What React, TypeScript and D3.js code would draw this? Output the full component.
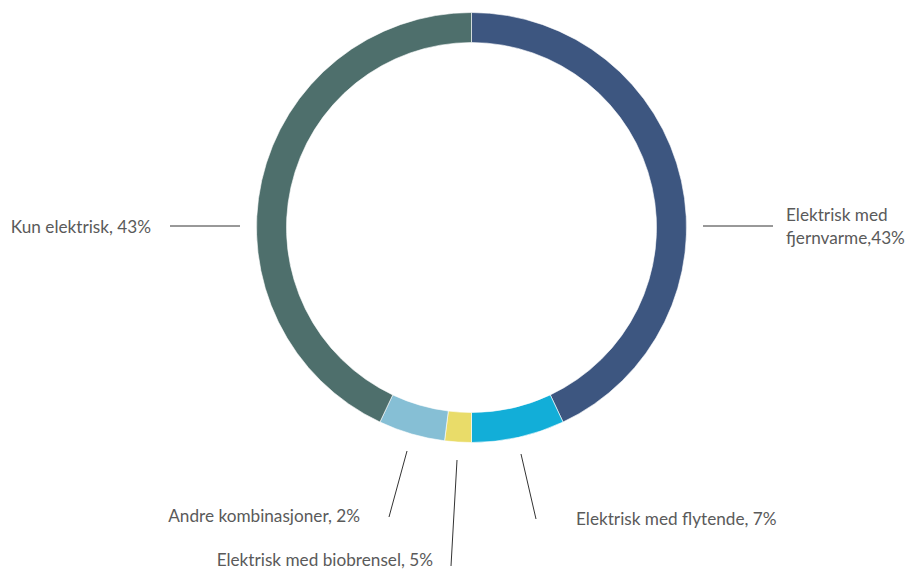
import React from "react";
import * as d3 from "d3";

const categories = [
  "Elektrisk med fjernvarme",
  "Elektrisk med flytende",
  "Elektrisk med biobrensel",
  "Andre kombinasjoner",
  "Kun elektrisk",
];
const values = [43, 7, 2, 5, 43];
const colors = ["#3d5680", "#12aed8", "#e9dc69", "#86bfd5", "#4e6f6c"];

type Label = { lines: string[]; x: number; y: number; anchor: string; line: [number, number, number, number] };
const labels: Label[] = [
  { lines: ["Elektrisk med", "fjernvarme,43%"], x: 786, y: 221, anchor: "start", line: [703, 226, 773, 226] },
  { lines: ["Elektrisk med flytende, 7%"], x: 576, y: 525, anchor: "start", line: [521, 454, 536, 519] },
  { lines: ["Elektrisk med biobrensel, 5%"], x: 433, y: 566, anchor: "end", line: [457, 460, 451, 566] },
  { lines: ["Andre kombinasjoner, 2%"], x: 360, y: 522, anchor: "end", line: [407, 451, 389, 517] },
  { lines: ["Kun elektrisk, 43%"], x: 151, y: 233, anchor: "end", line: [170, 226, 240, 226] },
];

export default function App() {
  const W = 911, H = 570;
  const cx = 471.5, cy = 227.5;
  const outerR = 215, innerR = 185;
  const data = categories.map((c, i) => ({ c, v: values[i], color: colors[i] }));
  const pie = d3.pie<any>().value((d) => d.v).sort(null);
  const arc = d3.arc<any>().innerRadius(innerR).outerRadius(outerR);
  const arcs = pie(data);
  return (
    <svg width={W} height={H} style={{ position: "absolute", left: 0, top: 0, background: "#fff" }}>
      <g transform={`translate(${cx},${cy})`}>
        {arcs.map((a, i) => (
          <path key={i} d={arc(a) || ""} fill={a.data.color} stroke="#ffffff" strokeWidth={0.6} />
        ))}
      </g>
      {labels.map((l, i) => (
        <g key={i}>
          <line x1={l.line[0]} y1={l.line[1]} x2={l.line[2]} y2={l.line[3]} stroke="#333" strokeWidth={1} />
          <text
            x={l.x}
            y={l.y}
            textAnchor={l.anchor as any}
            fill="#5a5a5a"
            fontSize={17.2}
            fontFamily="Lato, 'Noto Sans', sans-serif"
          >
            {l.lines.map((t, j) => (
              <tspan key={j} x={l.x} dy={j === 0 ? 0 : 23}>{t}</tspan>
            ))}
          </text>
        </g>
      ))}
    </svg>
  );
}
